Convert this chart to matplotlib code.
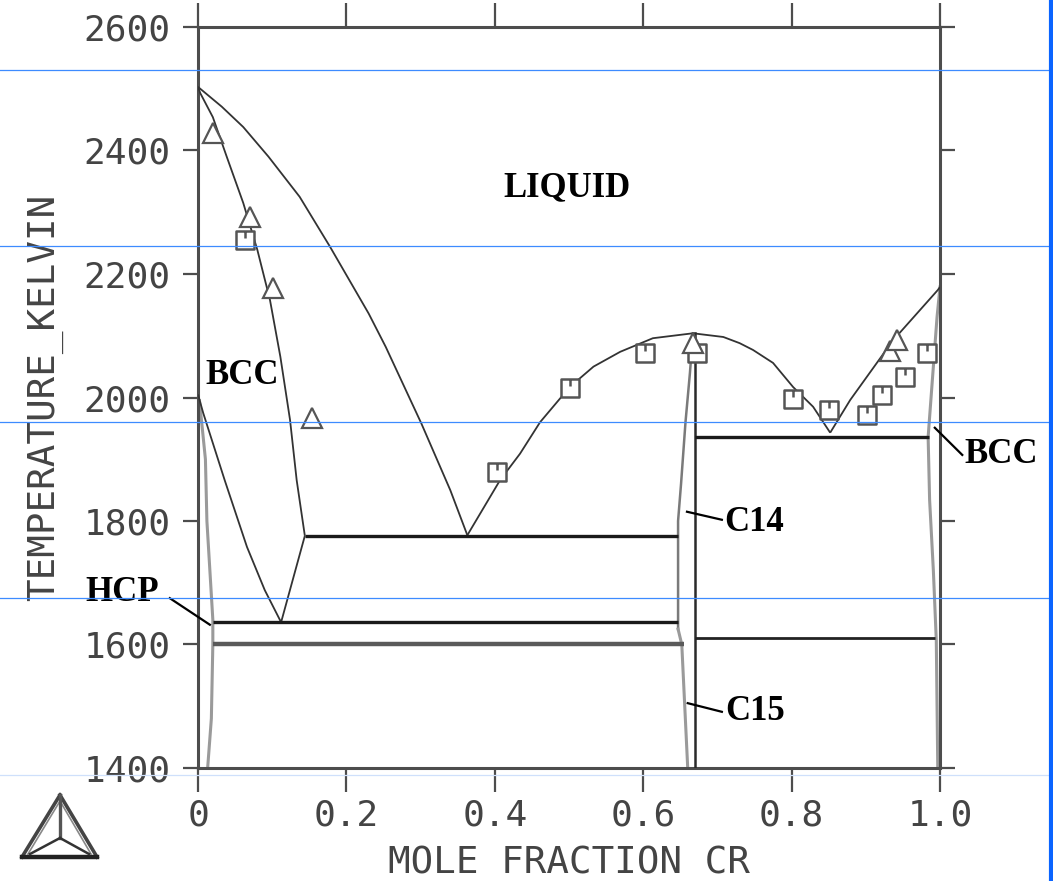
import matplotlib
matplotlib.use("Agg")
import matplotlib.pyplot as plt
from matplotlib.lines import Line2D
from matplotlib.path import Path

# ---- phase boundaries (mole fraction Cr, temperature K) ----
liq_left_x = [0.0, 0.032, 0.061, 0.095, 0.137, 0.178, 0.230, 0.253, 0.301, 0.340, 0.363]
liq_left_T = [2503, 2471, 2438, 2390, 2325, 2244, 2136, 2082, 1958, 1850, 1777]

sol_left_x = [0.0, 0.003, 0.020, 0.039, 0.061, 0.080, 0.097, 0.111, 0.124, 0.133, 0.144]
sol_left_T = [2503, 2493, 2454, 2389, 2315, 2239, 2158, 2066, 1964, 1866, 1776]

solvus_left_x = [0.0, 0.007, 0.036, 0.066, 0.090, 0.112, 0.144]
solvus_left_T = [2005, 1975, 1866, 1758, 1688, 1636, 1776]

hcp_bound_x = [0.002, 0.010, 0.012, 0.016, 0.020, 0.020, 0.018, 0.013]
hcp_bound_T = [1995, 1900, 1800, 1720, 1640, 1600, 1480, 1400]

liq_mid_x = [0.363, 0.407, 0.434, 0.461, 0.501, 0.533, 0.569, 0.613, 0.667,
             0.708, 0.730, 0.748, 0.775, 0.802, 0.829, 0.852]
liq_mid_T = [1777, 1866, 1909, 1960, 2017, 2050, 2074, 2096, 2104,
             2098, 2088, 2077, 2056, 2017, 1985, 1943]

liq_right_x = [0.852, 0.879, 0.937, 0.997, 1.0]
liq_right_T = [1943, 1996, 2093, 2174, 2179]

c14_left_x = [0.667, 0.663, 0.657, 0.651, 0.647, 0.647]
c14_left_T = [2104, 2040, 1960, 1860, 1800, 1625]

c15_left_x = [0.647, 0.652, 0.656, 0.660]
c15_left_T = [1625, 1600, 1500, 1400]

c14_x = [0.670, 0.670]
c14_T = [2104, 1400]

bcc_right_x = [1.0, 0.996, 0.989, 0.984, 0.986, 0.991, 0.995, 0.997]
bcc_right_T = [2179, 2130, 2017, 1936, 1834, 1721, 1607, 1400]

# invariant reactions: temperature, start x, end x
inv_T = [1776, 1636, 1600, 1936, 1610]
inv_x0 = [0.144, 0.020, 0.020, 0.670, 0.670]
inv_x1 = [0.647, 0.647, 0.655, 0.985, 0.993]

# ---- experimental points ----
tri_x = [0.020, 0.070, 0.101, 0.154, 0.667, 0.932, 0.942]
tri_T = [2428, 2292, 2177, 1967, 2088, 2075, 2093]

sq_x = [0.063, 0.403, 0.501, 0.602, 0.672, 0.802, 0.850, 0.901, 0.922, 0.953, 0.982]
sq_T = [2255, 1880, 2015, 2072, 2072, 1998, 1980, 1972, 2004, 2033, 2072]

x_ticks = [0.0, 0.2, 0.4, 0.6, 0.8, 1.0]
x_ticklabels = ["0", "0.2", "0.4", "0.6", "0.8", "1.0"]
y_ticks = [1400, 1600, 1800, 2000, 2200, 2400, 2600]
y_ticklabels = ["1400", "1600", "1800", "2000", "2200", "2400", "2600"]

W, H = 1053, 881
fig = plt.figure(figsize=(W / 100, H / 100), dpi=100)
fig.patch.set_facecolor("white")
ax = fig.add_axes([198 / W, 1 - 768 / H, 742 / W, 741 / H])
ax.set_xlim(0, 1)
ax.set_ylim(1400, 2600)

mono = "DejaVu Sans Mono"
serif = "Liberation Serif"
axis_grey = "#4d4d4d"

for s in ax.spines.values():
    s.set_color(axis_grey)
    s.set_linewidth(2.2)

ax.set_xticks(x_ticks)
ax.set_xticklabels(x_ticklabels)
ax.set_yticks(y_ticks)
ax.set_yticklabels(y_ticklabels)
ax.tick_params(axis="x", direction="out", length=17, width=1.6, color=axis_grey,
               top=True, bottom=True, pad=5, labelsize=26, labelcolor="#444444")
ax.tick_params(axis="y", direction="out", length=11, width=1.6, color=axis_grey,
               left=True, right=True, pad=9, labelsize=26, labelcolor="#444444")
for lab in ax.get_xticklabels() + ax.get_yticklabels():
    lab.set_fontfamily(mono)

ax.set_xlabel("MOLE FRACTION CR", fontfamily=mono, fontsize=27, color="#444444", va="center")
ax.xaxis.set_label_coords(0.5, (768 - 864) / 741)
ax.set_ylabel("TEMPERATURE_KELVIN", fontfamily=mono, fontsize=27, color="#444444",
              va="center", ha="center")
ax.yaxis.set_label_coords((45 - 198) / 742, (768 - 397) / 741)

# phase boundary curves
thin = dict(color="#333333", lw=1.3, solid_capstyle="butt", solid_joinstyle="round", zorder=3)
ax.plot(liq_left_x, liq_left_T, **thin)
ax.plot(sol_left_x, sol_left_T, **thin)
ax.plot(solvus_left_x, solvus_left_T, **thin)
ax.plot(liq_mid_x, liq_mid_T, **thin)
ax.plot(liq_right_x, liq_right_T, **thin)

grey = dict(color="#9a9a9a", lw=2.2, zorder=2)
ax.plot(hcp_bound_x, hcp_bound_T, **grey)
ax.plot(c14_left_x, c14_left_T, color="#7a7a7a", lw=1.8, zorder=2)
ax.plot(c15_left_x, c15_left_T, **grey)
ax.plot(bcc_right_x, bcc_right_T, **grey)
ax.plot(c14_x, c14_T, color="#2a2a2a", lw=1.8, zorder=3)

# invariant lines
inv_styles = [
    dict(color="#1a1a1a", lw=2.4),
    dict(color="#1a1a1a", lw=2.4),
    dict(color="#5a5a5a", lw=3.2),
    dict(color="#1a1a1a", lw=2.4),
    dict(color="#222222", lw=2.0),
]
for T, x0, x1, st in zip(inv_T, inv_x0, inv_x1, inv_styles):
    ax.plot([x0, x1], [T, T], zorder=3, solid_capstyle="butt", **st)

# experimental markers
sq_marker = Path(
    [(-1, -1), (1, -1), (1, 1), (-1, 1), (-1, -1), (0, 1), (0, 0.25)],
    [Path.MOVETO, Path.LINETO, Path.LINETO, Path.LINETO, Path.CLOSEPOLY,
     Path.MOVETO, Path.LINETO],
)
ax.plot(sq_x, sq_T, linestyle="none", marker=sq_marker, ms=13, mfc="white",
        mec="#555555", mew=1.8, zorder=5)
ax.plot(tri_x, tri_T, linestyle="none", marker="^", ms=14, mfc="white",
        mec="#555555", mew=1.6, zorder=5)

# phase labels
lab = dict(fontfamily=serif, fontweight="bold", fontsize=25, color="black",
           ha="center", va="center", zorder=6)
ax.text(0.497, 2339, "LIQUID", **lab)
ax.text(0.059, 2036, "BCC", **lab)
ax.text(-0.102, 1685, "HCP", clip_on=False, **lab)
ax.text(0.749, 1797, "C14", **lab)
ax.text(0.751, 1491, "C15", **lab)
ax.text(1.082, 1907, "BCC", clip_on=False, **lab)

lead = dict(color="black", lw=1.6, clip_on=False, zorder=6)
ax.plot([-0.038, 0.016], [1675, 1632], **lead)
ax.plot([0.659, 0.706], [1815, 1802], **lead)
ax.plot([0.660, 0.706], [1505, 1491], **lead)
ax.plot([0.993, 1.030], [1951, 1907], **lead)

# decorative guide lines across the figure
def fig_line(xs, ys, **kw):
    fig.add_artist(Line2D([x / W for x in xs], [1 - y / H for y in ys],
                          transform=fig.transFigure, **kw))

for yy in (70, 246, 422, 598):
    fig_line([0, W], [yy, yy], color="#3d8bff", lw=0.9, zorder=10)
fig_line([0, W], [775, 775], color="#cfe0fb", lw=0.9, zorder=10)
fig_line([1051, 1051], [0, H], color="#0a64ff", lw=3.0, zorder=10)

# logo triangle
ax_c = (60, 795)
bl = (22, 857)
br = (97, 857)
ctr = (60, 838)
for (p, q) in [(ax_c, bl), (ax_c, br)]:
    fig_line([p[0], q[0]], [p[1], q[1]], color="#444444", lw=2.6)
    fig_line([p[0], q[0] + (6 if q is bl else -6)], [p[1] + 6, q[1] - 3],
             color="#888888", lw=1.2)
fig_line([bl[0], br[0]], [bl[1], br[1]], color="#222222", lw=3.2)
fig_line([ax_c[0], ctr[0]], [ax_c[1], ctr[1]], color="#555555", lw=2.4)
fig_line([ctr[0], bl[0] + 8], [ctr[1], bl[1] - 3], color="#333333", lw=1.8)
fig_line([ctr[0], br[0] - 8], [ctr[1], br[1] - 3], color="#333333", lw=1.8)

fig.savefig("out.png", dpi=100, facecolor="white")
